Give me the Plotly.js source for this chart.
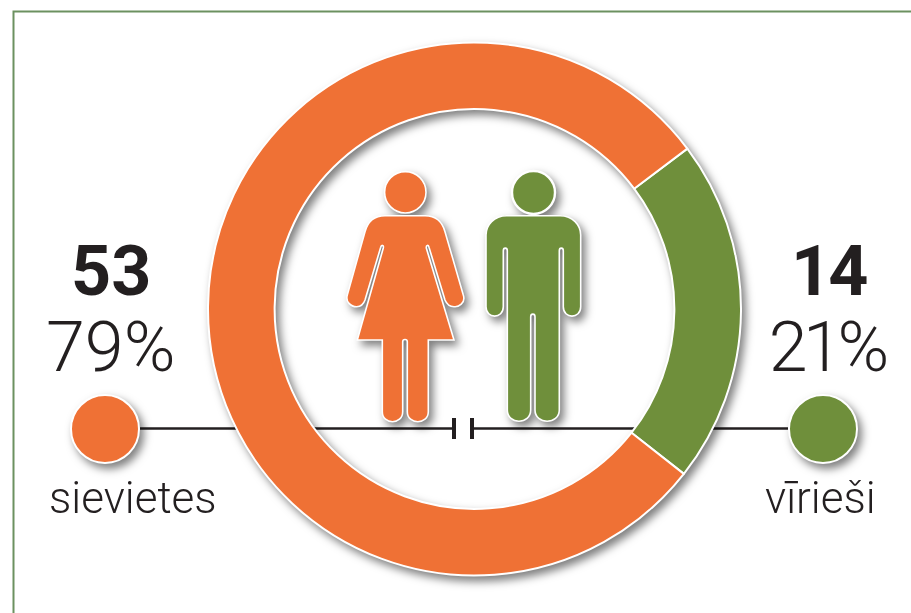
<!DOCTYPE html>
<html>
<head>
<meta charset="utf-8">
<script src="https://cdn.plot.ly/plotly-3.0.1.min.js"></script>
<style>
html,body{margin:0;padding:0;background:#fff;overflow:hidden}
#chart{width:911px;height:613px}
#chart .pielayer,#chart .scatterlayer .points,#chart .layer-above .shapelayer{filter:drop-shadow(4px 5px 4px rgba(0,0,0,.5))}
</style>
</head>
<body>
<div id="chart"></div>
<script>
const categories = ['vīrieši', 'sievietes'];
const counts = [14, 53];
const shares = ['21%', '79%'];
const colors = ['#6F8F3B', '#EF7135'];
const ink = '#231F20';
const W = 911, H = 613;

const womanPath = 'M165,167 L285,167 C320,167 338,190 345,215 L400,405 C408,430 385,442 372,440 C358,440 350,432 345,420 L297,262 C295,254 288,254 289,264 L372,540 L295,540 L295,755 C295,795 232,795 232,755 L232,545 C232,536 218,536 218,545 L218,755 C218,795 157,795 157,755 L157,540 L82,540 L160,264 C162,254 154,254 152,262 L105,420 C100,435 90,440 80,440 C62,440 46,425 52,405 L105,215 C112,190 130,167 165,167 Z';
const manPath = 'M530,167 L690,167 C728,167 752,195 752,225 L752,440 C752,478 700,478 700,440 L700,272 C700,262 688,262 688,272 L688,750 C688,795 615,795 615,750 L615,470 C615,460 602,460 602,470 L602,750 C602,795 532,795 532,750 L532,272 C532,262 520,262 520,272 L520,440 C520,478 468,478 468,440 L468,225 C468,195 492,167 530,167 Z';
const toPx = p => p.replace(/(-?[\d.]+),(-?[\d.]+)/g, (m, a, b) => (330 + a / 3).toFixed(1) + ',' + (160 + b / 3).toFixed(1));

const shape = (o) => Object.assign({xref: 'x', yref: 'y', layer: 'above'}, o);
const shapes = [
  shape({type: 'path', path: 'M911,11.5 L13.5,11.5 L13.5,613', layer: 'below', line: {color: '#6C9160', width: 2}}),
  shape({type: 'line', x0: 454, x1: 454, y0: 418, y1: 439, layer: 'below', line: {color: ink, width: 4}}),
  shape({type: 'line', x0: 472, x1: 472, y0: 418, y1: 439, layer: 'below', line: {color: ink, width: 4}}),
  shape({type: 'path', path: toPx(womanPath), fillcolor: colors[1], line: {color: '#fff', width: 1.6}}),
  shape({type: 'circle', x0: 384.6, x1: 426, y0: 171.6, y1: 213, fillcolor: colors[1], line: {color: '#fff', width: 1.6}}),
  shape({type: 'path', path: toPx(manPath), fillcolor: colors[0], line: {color: '#fff', width: 1.6}}),
  shape({type: 'circle', x0: 512, x1: 555, y0: 171, y1: 214, fillcolor: colors[0], line: {color: '#fff', width: 2.4}})
];

const label = (x, y, text, size, weight) => ({
  xref: 'x', yref: 'y', x, y, text, showarrow: false, xanchor: 'center', yanchor: 'middle',
  font: {family: 'Roboto', size, weight, color: ink}
});
const annotations = [
  label(111, 271, String(counts[1]), 70, 700),
  label(110, 347, shares[1], 70, 300),
  label(133, 498, categories[1], 44, 300),
  label(828, 271, String(counts[0]), 70, 700),
  label(826, 347, shares[0], 70, 300),
  label(820, 498, categories[0], 44, 300)
];

const data = [
  {type: 'scatter', mode: 'lines', x: [140, 455, null, 472, 788], y: [428.5, 428.5, null, 428.5, 428.5],
   line: {color: ink, width: 2.6}, hoverinfo: 'skip', showlegend: false},
  {type: 'scatter', mode: 'markers', x: [105, 823], y: [429, 429],
   marker: {size: 68, color: [colors[1], colors[0]], line: {color: '#fff', width: 2}},
   hoverinfo: 'skip', showlegend: false},
  {type: 'pie', labels: categories, values: counts, sort: false, direction: 'clockwise', rotation: 53,
   hole: 0.75, textinfo: 'none', hoverinfo: 'skip', showlegend: false,
   marker: {colors, line: {color: '#fff', width: 2}},
   domain: {x: [208 / W, 741 / W], y: [1 - 576 / H, 1 - 42 / H]}}
];

const axis = {visible: false, fixedrange: true, showgrid: false, zeroline: false};
Plotly.newPlot('chart', data, {
  width: W, height: H, margin: {l: 0, r: 0, t: 0, b: 0},
  paper_bgcolor: '#fff', plot_bgcolor: 'rgba(0,0,0,0)', showlegend: false,
  xaxis: Object.assign({range: [0, W]}, axis),
  yaxis: Object.assign({range: [H, 0]}, axis),
  shapes, annotations
}, {staticPlot: true, displayModeBar: false}).then(() => {
  document.querySelectorAll('#chart .annotation-text').forEach(t => {
    const s = t.textContent;
    if (s === shares[0]) t.style.letterSpacing = '-4.5px';
    if (s === String(counts[0])) t.style.letterSpacing = '-3px';
  });
});
</script>
</body>
</html>
